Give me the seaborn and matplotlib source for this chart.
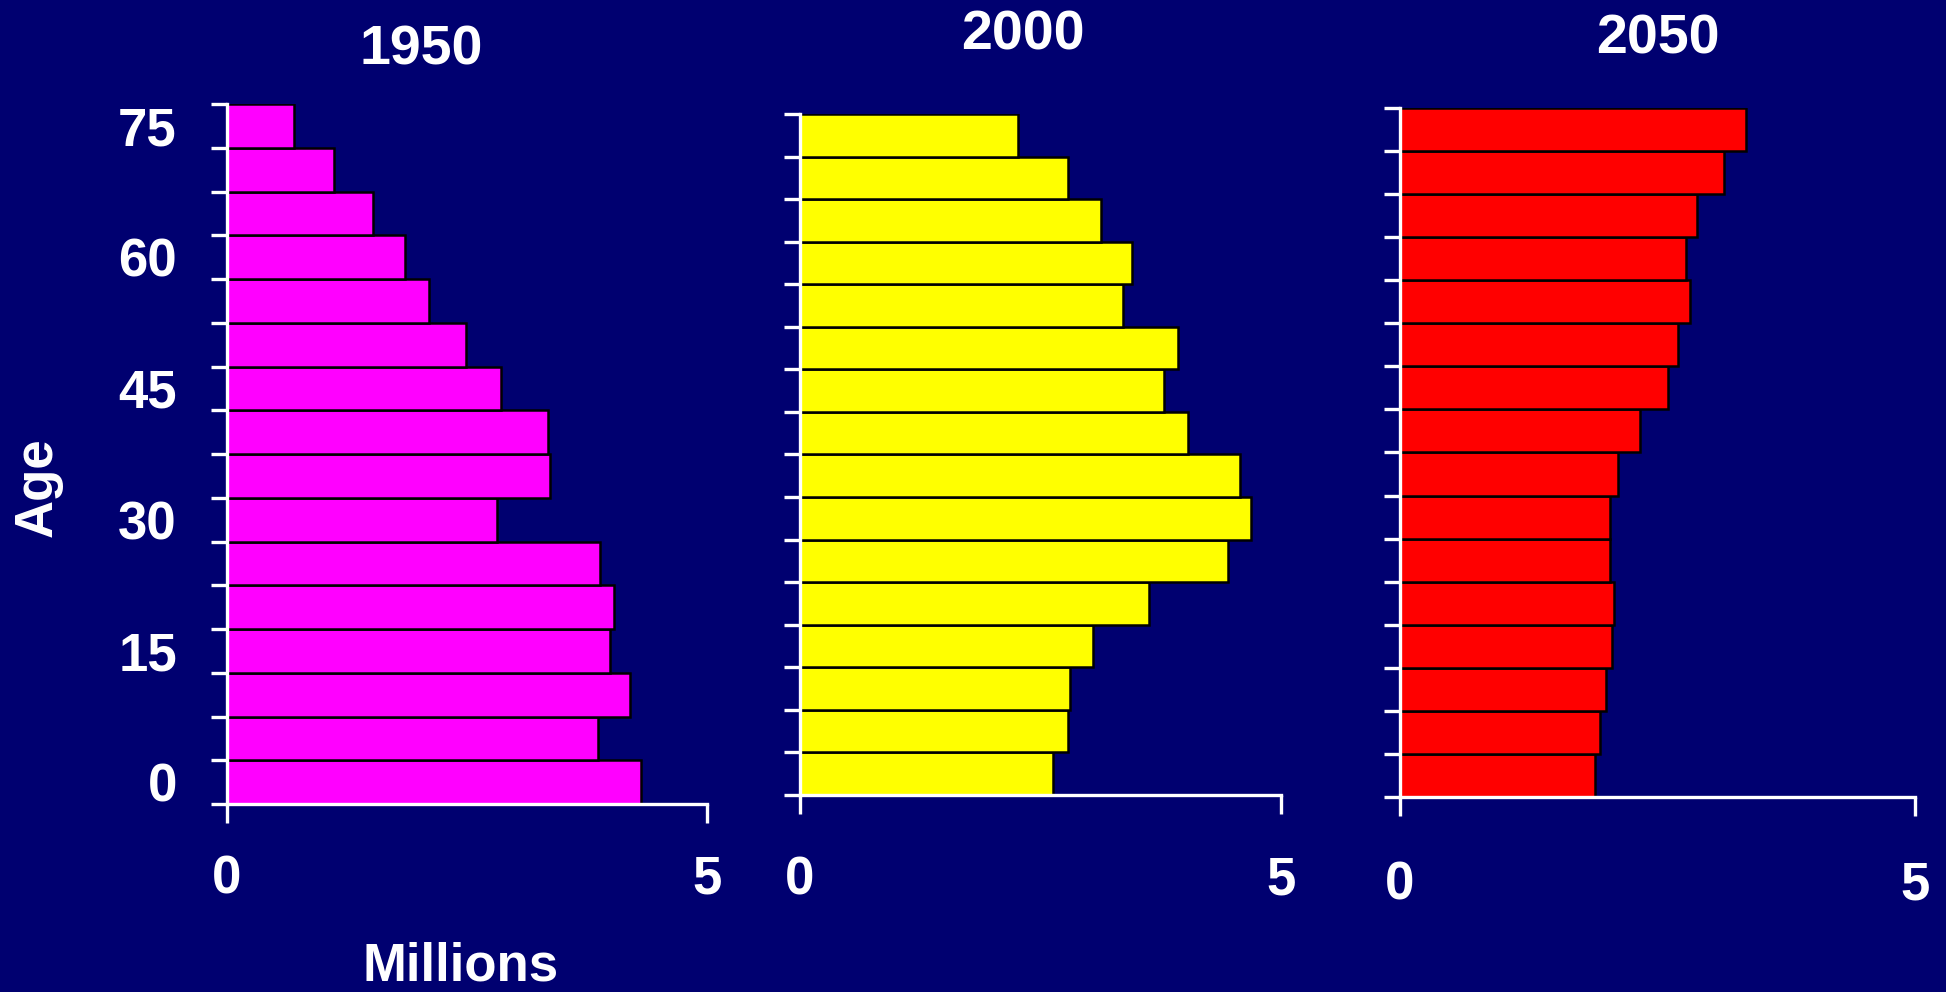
import matplotlib
matplotlib.use("Agg")
import matplotlib.pyplot as plt
import seaborn as sns
import pandas as pd
import numpy as np

# Age groups (lower bound of each 5-year band), population in millions
ages = [0, 5, 10, 15, 20, 25, 30, 35, 40, 45, 50, 55, 60, 65, 70, 75]
age_tick_labels = [0, 15, 30, 45, 60, 75]
years = ["1950", "2000", "2050"]
pop_1950 = [4.31, 3.87, 4.20, 3.99, 4.03, 3.89, 2.81, 3.37,
            3.34, 2.85, 2.49, 2.11, 1.86, 1.52, 1.12, 0.70]
pop_2000 = [2.63, 2.79, 2.81, 3.05, 3.63, 4.45, 4.69, 4.57,
            4.03, 3.78, 3.93, 3.36, 3.45, 3.13, 2.79, 2.27]
pop_2050 = [1.89, 1.94, 2.00, 2.06, 2.08, 2.04, 2.04, 2.12,
            2.33, 2.60, 2.70, 2.82, 2.78, 2.88, 3.15, 3.36]
x_ticks = [0, 5]

sns.set_theme(style="white")
plt.rcParams['font.family'] = ['Liberation Sans', 'DejaVu Sans']
plt.rcParams['font.weight'] = 'bold'

BG = '#000070'
FG = 'white'
fig = plt.figure(figsize=(19.46, 9.92), dpi=100, facecolor=BG)

# data, bar colour, axes rect, title anchor (x centre, baseline), x label pad
panels = [
    (pop_1950, '#FF00FF', [0.1166, 0.1895, 0.2467, 0.7056], (0.2163, 0.9345), 23),
    (pop_2000, '#FFFF00', [0.4111, 0.1986, 0.2472, 0.6865], (0.5257, 0.9506), 30),
    (pop_2050, '#FF0000', [0.7194, 0.1966, 0.2646, 0.6946], (0.8520, 0.9456), 32),
]

for i, (vals, color, rect, tpos, xpad) in enumerate(panels):
    ax = fig.add_axes(rect)
    ax.set_facecolor(BG)
    df = pd.DataFrame({"age": ages, "pop": vals})
    sns.barplot(data=df, x="pop", y="age", orient="h", native_scale=True,
                color=color, saturation=1, width=1, errorbar=None,
                edgecolor="black", linewidth=1.8, ax=ax)
    ax.set_xlim(0, 5)
    ax.set_ylim(-2.5, 77.5)
    ax.set_xlabel("")
    ax.set_ylabel("")

    ax.set_xticks(x_ticks)
    ax.set_xticklabels([str(t) for t in x_ticks])
    ax.tick_params(axis='x', bottom=True, length=13.5, width=2.4, color=FG,
                   labelcolor=FG, labelsize=38, pad=xpad, direction='out')

    ax.set_yticks(np.arange(-2.5, 78, 5))
    ax.set_yticklabels([])
    ax.tick_params(axis='y', which='major', left=True, length=11.5,
                   width=2.4, color=FG, direction='out')
    if i == 0:
        ax.set_yticks(age_tick_labels, minor=True)
        ax.set_yticklabels([str(a) for a in age_tick_labels], minor=True)
        ax.tick_params(axis='y', which='minor', left=True, length=0, pad=36,
                       labelcolor=FG, labelsize=38)

    for s in ('top', 'right'):
        ax.spines[s].set_visible(False)
    for s in ('left', 'bottom'):
        ax.spines[s].set_color(FG)
        ax.spines[s].set_linewidth(2.4)
        ax.spines[s].set_zorder(5)

    fig.text(tpos[0], tpos[1], years[i], color=FG, fontsize=40,
             fontweight='bold', ha='center', va='baseline')

fig.text(0.0195, 0.509, "Age", color=FG, fontsize=38, fontweight='bold',
         rotation=90, ha='center', va='center')
fig.text(0.2369, 0.026, "Millions", color=FG, fontsize=38, fontweight='bold',
         ha='center', va='center')

fig.savefig("out.png", dpi=100, facecolor=BG)
